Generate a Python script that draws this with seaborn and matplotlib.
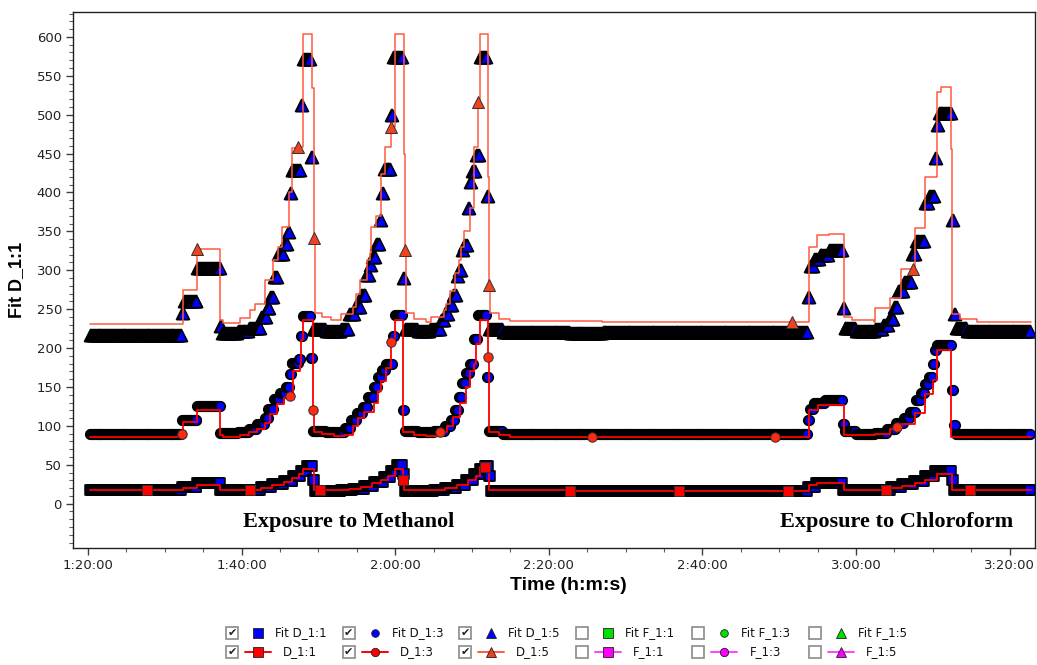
import numpy as np
import pandas as pd
import matplotlib
matplotlib.use("Agg")
import matplotlib.pyplot as plt
import seaborn as sns
from matplotlib.ticker import MultipleLocator, FixedLocator, FuncFormatter
from matplotlib.lines import Line2D
from matplotlib.patches import Rectangle

# ---------------- data (time in minutes) ----------------
x_ticks_min = [80, 100, 120, 140, 160, 180, 200]
y_ticks = [0, 50, 100, 150, 200, 250, 300, 350, 400, 450, 500, 550, 600]

# Fit series: sampled every 0.125 min from 80.25; each value holds until its end time
fit_start = 80.25
fit_step = 0.125

fit_d15_end = [92.25, 92.5, 94.25, 97.25, 97.5, 99.5, 101.0, 102.5, 103.25, 103.75,
               104.25, 104.75, 105.5, 106.0, 106.25, 106.5, 107.75, 108.0, 109.0, 109.25,
               111.0, 113.0, 114.0, 114.75, 115.5, 116.25, 116.75, 117.0, 117.5, 118.0,
               118.25, 118.5, 119.5, 119.75, 121.0, 121.25, 123.0, 124.5, 126.0, 126.5,
               127.0, 127.5, 128.0, 128.25, 128.75, 129.0, 129.5, 129.75, 130.0, 130.5,
               131.0, 132.0, 132.25, 134.0, 142.75, 147.0, 173.75, 174.0, 174.5, 175.25,
               176.5, 178.25, 178.5, 180.0, 182.5, 183.5, 184.25, 185.0, 185.5, 186.25,
               187.25, 187.75, 189.0, 189.5, 190.25, 190.5, 190.75, 192.5, 192.75, 193.0,
               194.5, 202.75]
fit_d15_val = [217, 245, 260, 303, 228, 219, 222, 226, 240, 252,
               266, 291, 321, 334, 349, 399, 429, 512, 572, 446,
               224, 222, 225, 244, 253, 268, 294, 307, 317, 334,
               364, 399, 430, 499, 574, 290, 224, 222, 224, 236,
               244, 255, 268, 292, 300, 326, 332, 380, 414, 427,
               448, 574, 396, 224, 221, 219, 221, 266, 305, 314,
               320, 326, 251, 226, 222, 224, 230, 238, 253, 274,
               285, 321, 338, 386, 395, 444, 487, 502, 365, 244,
               226, 222]

fit_d13_end = [92.25, 94.25, 97.25, 99.5, 101.0, 102.0, 103.0, 103.5, 104.25, 105.0,
               105.75, 106.25, 106.5, 107.5, 107.75, 108.0, 109.0, 109.25, 111.0, 113.5,
               114.25, 115.0, 115.75, 116.5, 117.25, 117.75, 118.25, 118.75, 119.75, 120.0,
               121.0, 121.25, 123.0, 125.0, 126.5, 127.25, 127.75, 128.25, 128.75, 129.25,
               129.75, 130.25, 130.75, 132.0, 132.25, 134.0, 173.75, 174.0, 174.5, 176.0,
               178.25, 178.5, 180.0, 182.5, 184.0, 185.25, 186.25, 187.0, 187.75, 188.5,
               189.0, 189.5, 190.0, 190.25, 190.5, 192.5, 192.75, 193.0, 202.75]
fit_d13_val = [89, 107, 126, 91, 92, 96, 103, 110, 122, 135,
               142, 150, 167, 181, 186, 216, 241, 187, 94, 92,
               97, 107, 116, 124, 137, 150, 163, 172, 180, 215,
               242, 120, 94, 92, 94, 100, 107, 120, 137, 155,
               168, 180, 212, 242, 163, 93, 89, 107, 122, 129,
               133, 103, 93, 90, 91, 96, 104, 110, 118, 133,
               142, 154, 163, 180, 197, 204, 146, 101, 90]

fit_d11_end = [92.25, 94.25, 97.25, 101.0, 102.5, 104.0, 105.5, 106.75, 107.75, 108.5,
               109.25, 109.5, 113.0, 114.5, 116.0, 117.25, 118.5, 119.5, 120.25, 121.0,
               121.25, 125.0, 126.5, 128.0, 129.25, 130.25, 131.0, 131.75, 132.25, 132.5,
               173.75, 174.75, 178.25, 182.5, 184.5, 186.0, 187.5, 189.0, 190.25, 192.5,
               192.75, 202.75]
fit_d11_val = [17, 21, 26, 17, 18, 21, 25, 29, 35, 42,
               49, 31, 16, 17, 19, 23, 28, 34, 42, 50,
               38, 16, 17, 20, 24, 30, 38, 45, 49, 35,
               16, 22, 27, 17, 18, 21, 25, 29, 35, 42,
               30, 17]

# Measured series (step line) and the times that carry a marker
d15_t = [80.25, 92.4, 94.2, 97.2, 97.6, 99.8, 101.1, 101.7, 103.0, 104.1,
         104.7, 105.2, 106.2, 106.6, 107.4, 108.0, 109.2, 109.4, 109.5, 110.5,
         111.7, 113.0, 114.5, 114.9, 115.4, 116.3, 116.7, 116.9, 117.5, 118.2,
         118.7, 119.5, 120.0, 121.1, 121.3, 121.4, 122.5, 124.0, 124.7, 126.3,
         126.6, 127.1, 127.8, 128.3, 128.6, 129.0, 129.7, 130.2, 130.8, 131.0,
         132.1, 132.25, 132.4, 133.5, 135.0, 142.8, 146.9, 171.6, 173.9, 174.9,
         176.5, 178.4, 179.5, 182.3, 182.5, 184.4, 185.9, 187.4, 187.7, 189.0,
         190.5, 191.0, 192.4, 192.5, 193.5, 195.7, 202.75]
d15_v = [231, 275, 327, 236, 232, 239, 249, 257, 287, 313,
         330, 356, 400, 457, 459, 604, 534, 341, 245, 240,
         236, 244, 253, 270, 287, 313, 322, 356, 370, 424,
         459, 484, 604, 450, 326, 245, 238, 234, 240, 249,
         257, 274, 296, 313, 330, 351, 380, 459, 516, 604,
         420, 281, 245, 238, 235, 235, 233, 233, 330, 345,
         347, 240, 236, 233, 251, 264, 302, 302, 354, 420,
         529, 536, 456, 244, 238, 233, 233]
d15_marks = [94.2, 107.4, 109.4, 119.5, 121.3, 130.8, 132.25, 171.6, 187.4]

d13_t = [80.25, 92.2, 92.4, 94.2, 97.2, 97.6, 99.8, 101.0, 102.0, 103.0,
         103.7, 104.6, 105.5, 106.3, 106.7, 107.6, 107.8, 108.0, 109.2, 109.3,
         109.4, 110.5, 112.0, 113.5, 114.5, 115.2, 116.0, 117.2, 117.8, 118.2,
         118.8, 119.5, 120.0, 121.0, 122.5, 124.0, 125.8, 126.8, 127.5, 128.5,
         129.2, 129.7, 130.2, 130.5, 131.0, 132.1, 132.2, 133.5, 135.0, 145.6,
         169.5, 173.9, 175.0, 178.4, 182.5, 184.4, 185.3, 186.0, 187.7, 189.0,
         190.0, 190.5, 192.4, 202.75]
d13_v = [86, 89, 105, 120, 88, 86, 88, 92, 96, 104,
         115, 128, 136, 139, 170, 178, 210, 236, 236, 120,
         92, 89, 87, 88, 100, 110, 118, 130, 145, 158,
         175, 208, 236, 92, 88, 87, 92, 100, 112, 130,
         150, 170, 180, 205, 236, 189, 92, 88, 86, 86,
         86, 120, 127, 88, 90, 96, 99, 103, 116, 141,
         159, 197, 86, 86]
d13_marks = [92.2, 106.3, 109.3, 119.5, 125.8, 132.1, 145.6, 169.5, 185.3]

d11_t = [80.25, 87.7, 92.4, 94.2, 97.2, 101.1, 102.5, 104.0, 105.5, 106.5,
         107.5, 108.0, 109.4, 110.2, 114.0, 115.5, 117.0, 118.2, 119.0, 120.0,
         121.0, 121.1, 125.0, 126.5, 128.0, 129.5, 130.5, 131.0, 131.7, 132.2,
         142.8, 157.0, 171.2, 173.9, 174.9, 178.4, 182.5, 183.9, 184.5, 186.0,
         187.7, 189.0, 190.5, 192.5, 194.8, 202.75]
d11_v = [17, 17, 20, 24, 17, 17, 20, 24, 28, 33,
         38, 44, 17, 17, 19, 22, 26, 30, 36, 44,
         30, 17, 18, 20, 24, 30, 36, 47, 47, 17,
         16, 16, 16, 24, 27, 17, 18, 18, 20, 23,
         27, 31, 38, 17, 17, 17]
d11_marks = [87.7, 101.1, 110.2, 121.0, 131.7, 142.8, 157.0, 171.2, 183.9, 194.8]

legend_fit_labels = ["Fit D_1:1", "Fit D_1:3", "Fit D_1:5", "Fit F_1:1", "Fit F_1:3", "Fit F_1:5"]
legend_raw_labels = ["D_1:1", "D_1:3", "D_1:5", "F_1:1", "F_1:3", "F_1:5"]
legend_checked = [True, True, True, False, False, False]

annotations = ["Exposure to Methanol", "Exposure to Chloroform"]
annotation_x = [114.0, 185.3]

# ---------------- style ----------------
sns.set_theme(style="white")
plt.rcParams["font.family"] = ["DejaVu Sans"]

W, H = 1037, 665
fig = plt.figure(figsize=(W / 100, H / 100), dpi=100)
fig.patch.set_facecolor("white")
ax = fig.add_axes([73 / W, 1 - 548 / H, (1035 - 73) / W, (548 - 12) / H])
ax.set_facecolor("white")


def expand(ends, vals):
    edges = np.r_[fit_start, ends]
    counts = np.rint(np.diff(edges) / fit_step).astype(int)
    v = np.repeat(np.asarray(vals, float), counts)
    t = fit_start + fit_step * np.arange(len(v))
    return t, v


BLUE = "#0000ff"
fit_specs = [(fit_d15_end, fit_d15_val, "^", 76),
             (fit_d13_end, fit_d13_val, "o", 48),
             (fit_d11_end, fit_d11_val, "s", 44)]
for ends, vals, mk, sz in fit_specs:
    t, v = expand(ends, vals)
    sns.scatterplot(x=t, y=v, marker=mk, s=sz, color=BLUE, edgecolor="black",
                    linewidth=1.1, ax=ax, legend=False, zorder=2)

raw_specs = [(d11_t, d11_v, d11_marks, "s", 7.0, "#ff0000", "#ff0000", 1.3),
             (d13_t, d13_v, d13_marks, "o", 6.8, "#ff0000", "#ff2a10", 1.3),
             (d15_t, d15_v, d15_marks, "^", 8.5, "#ff5a40", "#f0421e", 1.1)]
for tt, vv, marks, mk, ms, lc, mc, lw in raw_specs:
    idx = [tt.index(m) for m in marks]
    sns.lineplot(x=tt, y=vv, ax=ax, estimator=None, sort=False,
                 drawstyle="steps-post", color=lc, linewidth=lw,
                 marker=mk, markersize=ms, markevery=idx,
                 markerfacecolor=mc, markeredgecolor="#303030",
                 markeredgewidth=0.7, zorder=4, legend=False)

for txt, xpos in zip(annotations, annotation_x):
    ax.text(xpos, -23, txt, ha="center", va="center", fontsize=16,
            fontweight="bold", family=["Liberation Serif"], color="black")

ax.set_xlim(78.05, 203.3)
ax.set_ylim(-57, 632)
ax.xaxis.set_major_locator(FixedLocator(x_ticks_min))
ax.xaxis.set_minor_locator(MultipleLocator(5))
ax.xaxis.set_major_formatter(FuncFormatter(lambda v, p: f"{int(v // 60)}:{int(round(v % 60)):02d}:00"))
ax.yaxis.set_major_locator(FixedLocator(y_ticks))
ax.yaxis.set_minor_locator(MultipleLocator(10))
ax.tick_params(axis="both", which="major", direction="out", length=5, width=1,
               color="#404040", labelsize=9.5, labelcolor="#222222", pad=3,
               bottom=True, left=True)
ax.tick_params(axis="both", which="minor", direction="out", length=3, width=0.8,
               color="#606060", bottom=True, left=True)
for s in ax.spines.values():
    s.set_visible(True)
    s.set_color("#202020")
    s.set_linewidth(1.0)

ax.set_xlabel("Time (h:m:s)", fontsize=14, fontweight="bold",
              family=["Liberation Sans"], color="black", labelpad=4)
ax.set_ylabel("Fit D_1:1", fontsize=13, fontweight="bold",
              family=["Liberation Sans"], color="black", labelpad=8)
ax.xaxis.set_label_coords(0.515, -0.055)

# ---------------- legend (bottom, checkbox style) ----------------
def fx(px):
    return px / W


def fy(py):
    return 1 - py / H


col_x0, col_dx = 232, 116.6
rows_y = [633, 652]
fit_colors = [BLUE, BLUE, BLUE, "#00e000", "#00e000", "#00e000"]
raw_mcolors = ["#ff0000", "#ff0000", "#f0421e", "#ff00ff", "#ff00ff", "#ff00ff"]
raw_lcolors = ["#ff0000", "#ff0000", "#ff5a40", "#ff44ff", "#ff44ff", "#ff44ff"]
leg_markers = ["s", "o", "^", "s", "o", "^"]

for row, y in enumerate(rows_y):
    for i in range(6):
        cx = col_x0 + col_dx * i
        fig.add_artist(Rectangle((fx(cx - 6), fy(y + 6)), 12 / W, 12 / H,
                                 transform=fig.transFigure, facecolor="white",
                                 edgecolor="#8a8a8a", linewidth=1.2))
        if legend_checked[i]:
            fig.text(fx(cx), fy(y), "\u2714", ha="center", va="center",
                     fontsize=8, color="#202020")
        mx = cx + 26
        if row == 0:
            fig.add_artist(Line2D([fx(mx)], [fy(y)], transform=fig.transFigure,
                                  marker=leg_markers[i], markersize=6.5 if leg_markers[i] != "o" else 5.5,
                                  markerfacecolor=fit_colors[i], markeredgecolor="#202020",
                                  markeredgewidth=0.6, linestyle="none"))
            fig.text(fx(cx + 43), fy(y), legend_fit_labels[i], ha="left", va="center",
                     fontsize=8.5, color="#111111")
        else:
            fig.add_artist(Line2D([fx(mx - 13), fx(mx + 13)], [fy(y), fy(y)],
                                  transform=fig.transFigure, color=raw_lcolors[i],
                                  linewidth=1.4))
            fig.add_artist(Line2D([fx(mx)], [fy(y)], transform=fig.transFigure,
                                  marker=leg_markers[i], markersize=7 if leg_markers[i] != "o" else 6,
                                  markerfacecolor=raw_mcolors[i], markeredgecolor="#202020",
                                  markeredgewidth=0.6, linestyle="none"))
            fig.text(fx(cx + 51), fy(y), legend_raw_labels[i], ha="left", va="center",
                     fontsize=8.5, color="#111111")

fig.savefig("out.png", dpi=100, facecolor="white")
